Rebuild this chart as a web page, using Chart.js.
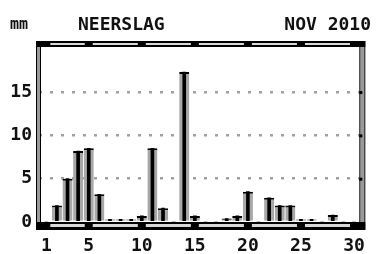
<!DOCTYPE html>
<html>
<head>
<meta charset="utf-8">
<script src="https://cdn.jsdelivr.net/npm/chart.js@4.4.1/dist/chart.umd.min.js"></script>
<style>
  html, body { margin: 0; padding: 0; background: #fff; }
  #wrap { position: relative; width: 379px; height: 254px; }
</style>
</head>
<body>
<div id="wrap"><canvas id="rainChart" width="379" height="254"></canvas></div>
<script>
/* Neerslag — November 2010, daily rainfall in mm */

const days = ['1','2','3','4','5','6','7','8','9','10','11','12','13','14','15',
              '16','17','18','19','20','21','22','23','24','25','26','27','28','29','30'];
const rainMm = [0, 1.9, 5.0, 8.2, 8.5, 3.2, 0.3, 0.3, 0.3, 0.7, 8.5, 1.6, 0, 17.3, 0.7,
                0, 0, 0.4, 0.7, 3.5, 0, 2.8, 1.9, 1.9, 0.3, 0.3, 0, 0.8, 0, 0];
const xTickLabels = ['1','5','10','15','20','25','30'];
const yTicks = [0, 5, 10, 15];
const unitLabel = 'mm';
const titleText = 'NEERSLAG';
const periodText = 'NOV 2010';

const FONT = 'DejaVu Sans Mono';

// frame, ruler bands and header text
const framePlugin = {
  id: 'frame',
  afterDatasetsDraw(chart) {
    const { ctx, chartArea: a, scales } = chart;
    const x = scales.x, y = scales.y;
    const L = a.left - 5, R = a.right + 5;
    const majors = xTickLabels.map(l => x.getPixelForValue(days.indexOf(l)));

    ctx.save();
    // left / right double borders
    [[L, a.left - 1], [a.right, R]].forEach(([x0, x1]) => {
      ctx.fillStyle = '#9a9a9a';
      ctx.fillRect(x0 + 1, a.top - 6, x1 - x0 - 1, a.bottom - a.top + 14);
      ctx.fillStyle = '#000';
      ctx.fillRect(x0, a.top - 6, 1, a.bottom - a.top + 14);
      ctx.fillRect(x1, a.top - 6, 1, a.bottom - a.top + 14);
    });

    // ruler bands (top and bottom)
    const band = (top, h, inTop, inH, gap) => {
      ctx.fillStyle = '#000';
      ctx.fillRect(L, top, R - L + 1, h);
      ctx.fillStyle = '#d8d8d8';
      const stops = [a.left - 2].concat(majors, [a.right + 2]);
      for (let i = 0; i < stops.length - 1; i++) {
        const s = stops[i] + gap, e = stops[i + 1] - gap;
        if (e > s) ctx.fillRect(s, inTop, e - s, inH);
      }
    };
    band(a.top - 6, 6, a.top - 4, 2, 4);
    band(a.bottom, 8, a.bottom + 2, 3, 4);

    // small ticks on the right border
    ctx.fillStyle = '#000';
    yTicks.slice(1).forEach(v => ctx.fillRect(a.right, y.getPixelForValue(v) - 1, 3, 3));

    // header
    ctx.fillStyle = '#111';
    ctx.textBaseline = 'alphabetic';
    ctx.font = `bold 15px ${FONT}`;
    ctx.textAlign = 'left';
    ctx.fillText(unitLabel, 10, 29);
    ctx.font = `bold 18px ${FONT}`;
    ctx.fillText(titleText, 78, 30);
    ctx.textAlign = 'right';
    ctx.fillText(periodText, 371, 30);
    ctx.restore();
  }
};

new Chart(document.getElementById('rainChart'), {
  type: 'bar',
  data: {
    labels: days,
    datasets: [
      {
        data: rainMm,
        backgroundColor: '#a8a8a8',
        borderColor: '#000',
        borderWidth: { top: 2, left: 0, right: 0, bottom: 0 },
        borderSkipped: false,
        barPercentage: 0.95,
        categoryPercentage: 1,
        grouped: false,
        order: 2
      },
      {
        data: rainMm,
        backgroundColor: '#000',
        barThickness: 3,
        grouped: false,
        order: 1
      }
    ]
  },
  options: {
    responsive: false,
    animation: false,
    events: [],
    layout: { padding: { left: 0, right: 9, top: 47, bottom: 0 } },
    plugins: { legend: { display: false }, tooltip: { enabled: false }, title: { display: false } },
    scales: {
      x: {
        offset: true,
        grid: { display: false, drawTicks: false },
        border: { display: false },
        afterFit: s => { s.height = 32; },
        ticks: {
          autoSkip: false,
          maxRotation: 0,
          padding: 14,
          color: '#111',
          font: { family: FONT, size: 18, weight: 'bold' },
          callback: (v, i) => xTickLabels.includes(days[i]) ? days[i] : ''
        }
      },
      y: {
        min: 0,
        max: 20.2,
        border: { display: false, dash: [3, 8], dashOffset: 2 },
        afterFit: s => { s.width = 41; },
        afterBuildTicks: s => { s.ticks = yTicks.map(v => ({ value: v })); },
        grid: {
          drawTicks: false,
          lineWidth: 2.5,
          color: c => (c.tick && c.tick.value > 0) ? '#a0a0a0' : 'rgba(0,0,0,0)'
        },
        ticks: {
          padding: 9,
          color: '#111',
          font: { family: FONT, size: 18, weight: 'bold' }
        }
      }
    }
  },
  plugins: [framePlugin]
});
</script>
</body>
</html>
